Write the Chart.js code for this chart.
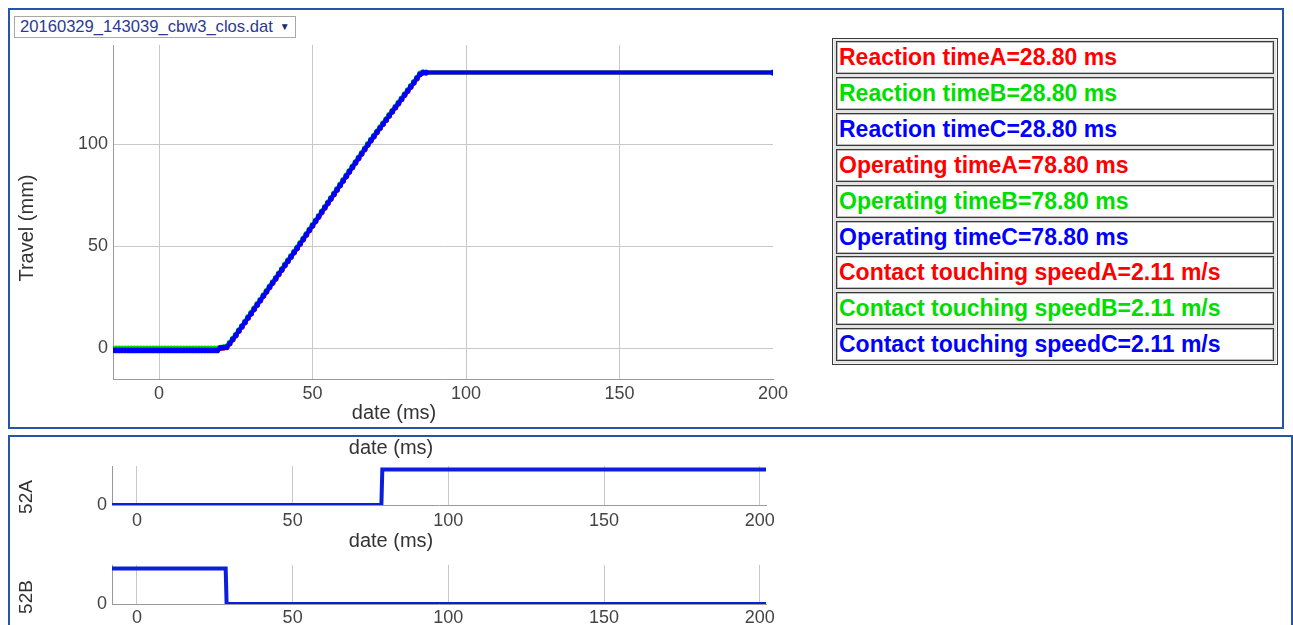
<!DOCTYPE html>
<html>
<head>
<meta charset="utf-8">
<title>Travel curve</title>
<script src="https://cdn.jsdelivr.net/npm/chart.js@4.4.1/dist/chart.umd.min.js"></script>
<style>
  html, body { margin: 0; padding: 0; background: #fff; }
  body { width: 1293px; height: 625px; position: relative; overflow: hidden;
         font-family: "Liberation Sans", Arial, sans-serif; }
  .panel { position: absolute; box-sizing: border-box; border: 2px solid #2356a5; }
  #filePick { position: absolute; left: 14px; top: 16px; width: 282px; height: 22px;
              box-sizing: border-box; border: 1px solid #a8a8a8; background: #fff;
              color: #2b3a92; font-size: 16.6px; line-height: 20px; padding-left: 5px;
              white-space: nowrap; }
  #filePick .arrow { font-size: 10px; color: #1d2a70; margin-left: 7px; vertical-align: 2px; }
  canvas { position: absolute; }
  #results { position: absolute; left: 832px; top: 38px; width: 446px; height: 327px;
             box-sizing: border-box; border: 1px solid #3c3c3c; background: #e2e2e2;
             box-shadow: inset 0 0 0 1px #f4f4f4; }
  .cell { position: absolute; left: 3px; width: 438px; height: 33px; box-sizing: border-box;
          border: 1px solid #3a3a3a; box-shadow: inset 0 0 0 1px #bdbdbd; background: #fff;
          font-weight: bold; font-size: 23px; line-height: 31px; padding-left: 2px;
          white-space: nowrap; }
</style>
</head>
<body>
<div class="panel" style="left:8px;top:8px;width:1276px;height:421px;"></div>
<div class="panel" style="left:8px;top:435px;width:1285px;height:200px;"></div>

<div id="filePick">20160329_143039_cbw3_clos.dat<span class="arrow">&#9660;</span></div>

<canvas id="travelChart" width="780" height="390" style="left:10px;top:38px;"></canvas>
<canvas id="chart52A" width="780" height="96" style="left:10px;top:437px;"></canvas>
<canvas id="chart52B" width="780" height="92" style="left:10px;top:533px;"></canvas>

<div id="results"></div>

<script>
// ---- travel curve, sampled every millisecond (ms -> mm) ----
const travelTime = [
  -15,-14,-13,-12,-11,-10,-9,-8,-7,-6,-5,-4,-3,-2,-1,0,1,2,3,4,5,6,7,8,9,10,11,12,13,14,15,16,17,18,19,
  20,21,22,23,24,25,26,27,28,29,30,31,32,33,34,35,36,37,38,39,40,41,42,43,44,45,46,47,48,49,50,
  51,52,53,54,55,56,57,58,59,60,61,62,63,64,65,66,67,68,69,70,71,72,73,74,75,76,77,78,79,80,
  81,82,83,84,85,86,87,200
];
const travelA = [
  -0.5,-0.5,-0.5,-0.5,-0.5,-0.5,-0.5,-0.5,-0.5,-0.5,-0.5,-0.5,-0.5,-0.5,-0.5,-0.5,-0.5,-0.5,-0.5,-0.5,
  -0.5,-0.5,-0.5,-0.5,-0.5,-0.5,-0.5,-0.5,-0.5,-0.5,-0.5,-0.5,-0.5,-0.5,-0.5,
  0.1,0.2,0.4,2.2,4.2,6.2,8.4,10.5,12.6,14.8,16.9,19.1,21.2,23.3,25.5,27.6,29.8,31.9,34.0,36.2,38.3,
  40.5,42.6,44.7,46.8,48.9,51.1,53.3,55.5,57.7,59.9,62.1,64.3,66.5,68.7,70.9,73.1,75.3,77.5,79.7,
  81.9,84.1,86.3,88.5,90.7,92.9,95.1,97.3,99.5,101.6,103.6,105.7,107.7,109.7,111.7,113.8,115.8,
  117.8,119.8,121.8,123.9,125.9,127.9,129.9,132.0,134.0,134.9,135.0,135.0
];
const travelB = [
  0,0,0,0,0,0,0,0,0,0,0,0,0,0,0,0,0,0,0,0,0,0,0,0,0,0,0,0,0,0,0,0,0,0,0,
  0.4,0.6,1.0,2.8,4.8,6.8,9.0,11.1,13.2,15.4,17.5,19.7,21.8,23.9,26.1,28.2,30.4,32.5,34.6,36.8,38.9,
  41.1,43.2,45.3,47.4,49.5,51.7,53.9,56.1,58.3,60.5,62.7,64.9,67.1,69.3,71.5,73.7,75.9,78.1,80.3,
  82.5,84.7,86.9,89.1,91.3,93.5,95.7,97.9,100.1,102.2,104.2,106.3,108.3,110.3,112.3,114.4,116.4,
  118.4,120.4,122.4,124.5,126.5,128.5,130.5,132.6,134.6,135.2,135.0,135.0
];
const travelC = [
  -1,-1,-1,-1,-1,-1,-1,-1,-1,-1,-1,-1,-1,-1,-1,-1,-1,-1,-1,-1,-1,-1,-1,-1,-1,-1,-1,-1,-1,-1,-1,-1,-1,-1,-1,
  0.3,0.4,0.6,2.4,4.4,6.4,8.6,10.7,12.8,15.0,17.1,19.3,21.4,23.5,25.7,27.8,30.0,32.1,34.2,36.4,38.5,
  40.7,42.8,44.9,47.0,49.1,51.3,53.5,55.7,57.9,60.1,62.3,64.5,66.7,68.9,71.1,73.3,75.5,77.7,79.9,
  82.1,84.3,86.5,88.7,90.9,93.1,95.3,97.5,99.7,101.8,103.8,105.9,107.9,109.9,111.9,114.0,116.0,
  118.0,120.0,122.0,124.1,126.1,128.1,130.1,132.2,134.2,135.0,135.0,135.0
];

// ---- auxiliary contacts (0 = open, 1 = closed) ----
const contactTime52A = [-8, 78.5, 78.8, 202];
const contact52A     = [0, 0, 1, 1];
const contactTime52B = [-8, 28.5, 28.8, 202];
const contact52B     = [1, 1, 0, 0];

// ---- computed results shown in the side table ----
const resultLabels = [
  'Reaction timeA=28.80 ms', 'Reaction timeB=28.80 ms', 'Reaction timeC=28.80 ms',
  'Operating timeA=78.80 ms', 'Operating timeB=78.80 ms', 'Operating timeC=78.80 ms',
  'Contact touching speedA=2.11 m/s', 'Contact touching speedB=2.11 m/s', 'Contact touching speedC=2.11 m/s'
];
const phaseColors = ['#ff0000', '#00dd00', '#0000ff'];

// build the result table
const results = document.getElementById('results');
resultLabels.forEach((txt, i) => {
  const d = document.createElement('div');
  d.className = 'cell';
  d.style.top = (2 + i * 35.9) + 'px';
  d.style.color = phaseColors[i % 3];
  d.textContent = txt;
  results.appendChild(d);
});

// draws free-standing axis captions at fixed canvas positions
const captions = {
  id: 'captions',
  afterDraw(chart, args, opts) {
    const ctx = chart.ctx;
    (opts.items || []).forEach(it => {
      ctx.save();
      ctx.font = it.font || '20px "Liberation Sans", Arial, sans-serif';
      ctx.fillStyle = it.color || '#333';
      ctx.textAlign = 'center';
      ctx.textBaseline = 'middle';
      ctx.translate(it.x, it.y);
      if (it.rotate) ctx.rotate(it.rotate);
      ctx.fillText(it.text, 0, 0);
      ctx.restore();
    });
  }
};

const FONT = '"Liberation Sans", Arial, sans-serif';
const tickFont = { family: FONT, size: 18 };
const gridColor = '#c8c8c8';
const axisColor = '#9a9a9a';

function xy(xs, ys) { return xs.map((x, i) => ({ x, y: ys[i] })); }
// the plot box is set by the layout padding alone
function noScalePad(s) { s.paddingTop = 0; s.paddingBottom = 0; s.paddingLeft = 0; s.paddingRight = 0; }

// ---- main travel chart (phase C drawn on top) ----
new Chart(document.getElementById('travelChart'), {
  type: 'line',
  data: {
    datasets: [
      { label: 'A', order: 3, data: xy(travelTime, travelA), borderColor: phaseColors[0], backgroundColor: phaseColors[0] },
      { label: 'B', order: 2, data: xy(travelTime, travelB), borderColor: phaseColors[1], backgroundColor: phaseColors[1] },
      { label: 'C', order: 1, data: xy(travelTime, travelC), borderColor: phaseColors[2], backgroundColor: phaseColors[2] }
    ].map(d => Object.assign(d, { borderWidth: 4, pointRadius: 2.8, pointBorderWidth: 0, tension: 0 }))
  },
  options: {
    responsive: false, animation: false, devicePixelRatio: 1,
    layout: { padding: { top: 7, right: 17, left: 0, bottom: 0 } },
    plugins: {
      legend: { display: false }, tooltip: { enabled: false },
      captions: { items: [
        { text: 'date (ms)', x: 384, y: 375 },
        { text: 'Travel (mm)', x: 17, y: 190, rotate: -Math.PI / 2 }
      ] }
    },
    scales: {
      x: {
        type: 'linear', min: -15, max: 200,
        ticks: { stepSize: 50, includeBounds: false, font: tickFont, color: '#444', padding: 4, maxRotation: 0 },
        grid: { drawTicks: false, color: c => (c.tick && c.tick.value === 200) ? 'rgba(0,0,0,0)' : gridColor },
        border: { color: axisColor },
        afterFit: s => { s.height = 49; noScalePad(s); }
      },
      y: {
        type: 'linear', min: -15, max: 148.5,
        ticks: { stepSize: 50, includeBounds: false, font: tickFont, color: '#444', padding: 5 },
        grid: { drawTicks: false, color: gridColor },
        border: { color: axisColor },
        afterFit: s => { s.width = 103; noScalePad(s); }
      }
    }
  },
  plugins: [captions]
});

// ---- contact charts ----
function contactChart(id, xs, ys, opts) {
  new Chart(document.getElementById(id), {
    type: 'line',
    data: { datasets: [{ data: xy(xs, ys), borderColor: '#0a1edc', borderWidth: 4,
                         pointRadius: 0, tension: 0 }] },
    options: {
      responsive: false, animation: false, devicePixelRatio: 1,
      layout: { padding: { top: opts.padTop, right: 24, left: 0, bottom: 0 } },
      plugins: {
        legend: { display: false }, tooltip: { enabled: false },
        captions: { items: [
          { text: 'date (ms)', x: 381, y: opts.titleY },
          { text: opts.name, x: 17, y: opts.nameY, rotate: -Math.PI / 2, font: '19px ' + FONT }
        ] }
      },
      scales: {
        x: {
          type: 'linear', min: -8, max: 202,
          ticks: { stepSize: 50, includeBounds: false, font: tickFont, color: '#444',
                   padding: opts.tickPad, maxRotation: 0 },
          grid: { drawTicks: false, color: gridColor },
          border: { color: axisColor },
          afterFit: s => { s.height = opts.xHeight; noScalePad(s); }
        },
        y: {
          type: 'linear', min: 0, max: 1.1,
          afterBuildTicks: s => { s.ticks = [{ value: 0 }]; },
          ticks: { font: tickFont, color: '#444', padding: 5 },
          grid: { drawTicks: false, color: 'rgba(0,0,0,0)' },
          border: { color: axisColor },
          afterFit: s => { s.width = 102; noScalePad(s); }
        }
      }
    },
    plugins: [captions]
  });
}

contactChart('chart52A', contactTime52A, contact52A,
  { name: '52A', padTop: 29, xHeight: 28, tickPad: 5, titleY: 11, nameY: 60 });
contactChart('chart52B', contactTime52B, contact52B,
  { name: '52B', padTop: 32, xHeight: 21, tickPad: 3, titleY: 8, nameY: 64 });
</script>
</body>
</html>
